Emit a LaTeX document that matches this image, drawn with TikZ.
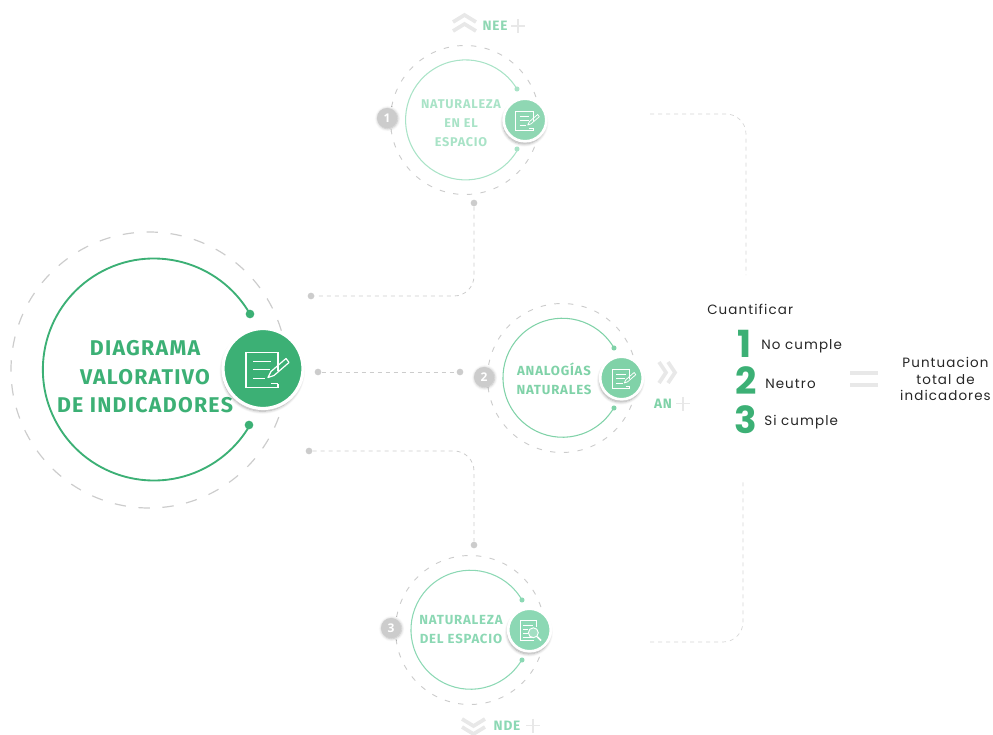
\documentclass[tikz,border=0pt]{standalone}
\usepackage{fontspec}
\usetikzlibrary{positioning, shadows.blur}
\setmainfont{Open Sans}
\newfontfamily\titlefont[LetterSpace=6]{Fira Sans}
\newfontfamily\plainfont[LetterSpace=8]{Poppins}
\newfontfamily\numfont{Poppins}

\definecolor{verde}{HTML}{3CB075}
\definecolor{verdeA}{HTML}{8FD7B3}
\definecolor{verdeAl}{HTML}{A9E3C7}
\definecolor{verdeB}{HTML}{80D2A8}
\definecolor{verdeC}{HTML}{8CD8B4}
\definecolor{gris}{HTML}{CCCCCC}
\definecolor{grisclaro}{HTML}{E8E8E8}

\tikzset{
	iconnote/.pic={
		\draw[white, line width=.9pt] (8,15) -- (15,15) (15,2) -- (15,-16) -- (-17,-16) -- (-17,19) -- (15,19) -- (15,15);
		\draw[white, line width=.9pt] (-10,-7) -- (8,-7) (-10,1) -- (7,1) (-10,10) -- (2,10);
		\draw[white, line width=.9pt, line join=round] (5,9) -- (8,3) -- (23,-10) -- (26,-6) -- (11,7) -- cycle;
	},
	iconnotesmall/.pic={
		\draw[white, line width=.55pt] (8,15) -- (15,15) (15,2) -- (15,-16) -- (-17,-16) -- (-17,19) -- (15,19) -- (15,15);
		\draw[white, line width=.55pt] (-10,-7) -- (8,-7) (-10,1) -- (7,1) (-10,10) -- (2,10);
		\draw[white, line width=.55pt, line join=round] (5,9) -- (8,3) -- (23,-10) -- (26,-6) -- (11,7) -- cycle;
	},
	iconlens/.pic={
		\draw[white, line width=.55pt] (-17,-17) -- (12,-17) -- (12,-6) (-17,-17) -- (-17,19) -- (8,19);
		\draw[white, line width=.55pt] (-12,-8) -- (7,-8) (-12,-1) -- (-2,-1) (-12,6) -- (-3,6) (-12,13) -- (6,13);
		\draw[white, line width=.7pt, fill=white, fill opacity=.2] (7,5) circle[radius=9];
		\draw[white, line width=1.2pt] (14,12) -- (21,19);
	}
}

\begin{document}
\begin{tikzpicture}[x=.75pt, y=-.75pt,
	ring/.style = {gris, line width=.9pt, dash pattern=on 8.5pt off 9.5pt},
	ringsmall/.style = {gris, line width=.7pt, dash pattern=on 4pt off 6.3pt},
	link/.style = {gris, line width=.6pt, dash pattern=on 3pt off 3pt, rounded corners=15pt},
	linkthin/.style = {gris!85, line width=.5pt, dash pattern=on 3pt off 3pt, rounded corners=15pt},
	dot/.style = {circle, fill=#1, inner sep=0pt, minimum size=5pt},
	icon/.style = {circle, fill=#1, draw=white, line width=2pt, inner sep=0pt, minimum size=32pt,
		blur shadow={shadow xshift=-.5pt, shadow yshift=-2pt, shadow blur steps=8, shadow opacity=35}},
	badge/.style = {circle, fill=gris, inner sep=0pt, minimum size=15pt, text=white,
		font=\bfseries\fontsize{9}{9}\selectfont,
		blur shadow={shadow xshift=.5pt, shadow yshift=-.5pt, shadow blur steps=5, shadow opacity=30}},
	label/.style = {align=center, text=#1, font=\titlefont\bfseries\fontsize{9.9}{14.2}\selectfont},
	tag/.style = {text=#1, inner sep=0pt, font=\titlefont\bfseries\fontsize{10.2}{10}\selectfont},
	chev/.style = {grisclaro, line width=2.8pt},
	plus/.style = {grisclaro, line width=1.4pt},
	plain/.style = {text=black!85, inner sep=0pt, font=\plainfont\fontsize{10.1}{12.6}\selectfont},
	num/.style = {text=verde, inner sep=0pt, font=\numfont\bfseries\fontsize{28}{28}\selectfont}
]

%%% BoundingBox
\useasboundingbox (0,0) rectangle (993,735);

%%% Kreis Hauptthema
\node[inner sep=0pt] (centro) at (152,370) {};
\draw[ring] (centro) ++(-3,0) circle[radius=138];
\node[dot=verde, minimum size=6.5pt] (mainA) at (250,314) {};
\node[dot=verde, minimum size=6.5pt] (mainB) at (249,425) {};
\draw[verde, line width=1.4pt] (mainA) arc[start angle=-30, end angle=-330, radius=111];
\node[label=verde, font=\titlefont\bfseries\fontsize{16}{21.3}\selectfont] (titulo) at (145,377) {DIAGRAMA\\VALORATIVO\\DE INDICADORES};
\node[icon=verde, minimum size=60pt, line width=2.4pt] (iconmain) at (263,368.5) {};
\pic at (iconmain) {iconnote};

%%% Kreis 1
\node[inner sep=0pt] (centroA) at (465,120) {};
\draw[ringsmall] (centroA) circle[radius=74.5];
\node[dot=verdeAl, minimum size=3.8pt] (aA) at (517,89) {};
\node[dot=verdeAl, minimum size=3.8pt] (aB) at (517,149) {};
\draw[verdeAl, line width=.8pt] (aA) arc[start angle=-31, end angle=-329, radius=60];
\node[label=verdeAl, font=\titlefont\bfseries\fontsize{9.5}{14.2}\selectfont] (tituloA) at (461,123) {NATURALEZA\\EN EL\\ESPACIO};
\node[icon=verdeA] (iconA) at (525,120) {};
\pic[scale=.55] at (iconA) {iconnotesmall};
\node[badge] (numA) at (387,118) {1};

%%% Kreis 2
\node[inner sep=0pt] (centroB) at (562,378) {};
\draw[ringsmall] (centroB) circle[radius=74.5];
\node[dot=verdeB, minimum size=3.8pt] (bA) at (614,348) {};
\node[dot=verdeB, minimum size=3.8pt] (bB) at (614,408) {};
\draw[verdeB, line width=.8pt] (bA) arc[start angle=-30, end angle=-330, radius=59.5];
\node[label=verdeB] (tituloB) at (554,379) {ANALOGÍAS\\NATURALES};
\node[icon=verdeB] (iconB) at (621.5,378) {};
\pic[scale=.55] at (iconB) {iconnotesmall};
\node[badge] (numB) at (484,377) {2};

%%% Kreis 3
\node[inner sep=0pt] (centroC) at (470,630) {};
\draw[ringsmall] (centroC) circle[radius=74.5];
\node[dot=verdeC, minimum size=3.8pt] (cA) at (522,600) {};
\node[dot=verdeC, minimum size=3.8pt] (cB) at (522,660) {};
\draw[verdeC, line width=.8pt] (cA) arc[start angle=-30, end angle=-330, radius=59.5];
\node[label=verdeC] (tituloC) at (461,630) {NATURALEZA\\DEL ESPACIO};
\node[icon=verdeC] (iconC) at (529.5,630) {};
\pic[scale=.55] at (iconC) {iconlens};
\node[badge] (numC) at (391,628) {3};

%%% Verbindungen
\node[dot=gris] (linkAa) at (474,203) {};
\node[dot=gris] (linkAb) at (311,296) {};
\draw[link] (linkAa) |- (linkAb);
\node[dot=gris] (linkBa) at (318,372) {};
\node[dot=gris] (linkBb) at (460,372) {};
\draw[link] (linkBa) -- (linkBb);
\node[dot=gris] (linkCa) at (309,451) {};
\node[dot=gris] (linkCb) at (474,545) {};
\draw[link] (linkCa) -| (linkCb);

%%% Klammer rechts
\coordinate (klamA) at (650,114);
\coordinate (klamB) at (746,275);
\coordinate (klamC) at (743,482);
\coordinate (klamD) at (650,642);
\draw[linkthin] (klamA) -| (klamB);
\draw[linkthin] (klamD) -| (klamC);

%%% Pfeile und Kuerzel
\draw[chev] (453,22) -- (464.5,15) -- (476,22) (453,31) -- (464.5,24) -- (476,31);
\node[tag=verdeA] (tagA) at (495,26) {NEE};
\draw[plus] (511,26) -- (525,26) (518,19) -- (518,33);

\draw[chev] (659,362) -- (666,372.5) -- (659,383) (668,362) -- (675,372.5) -- (668,383);
\node[tag=verdeB] (tagB) at (663,403.5) {AN};
\draw[plus] (676,403.5) -- (690,403.5) (683,396.5) -- (683,410.5);

\draw[chev] (462,719) -- (473.5,726) -- (485,719) (462,727) -- (473.5,734) -- (485,727);
\node[tag=verdeC] (tagC) at (507,725.5) {NDE};
\draw[plus] (526,725.5) -- (540,725.5) (533,718.5) -- (533,732.5);

%%% Rechte Seite
\node[plain, anchor=west] (cuant) at (707,309) {Cuantificar};
\node[num] (uno) at (745,344) {1};
\node[num] (dos) at (746,381) {2};
\node[num] (tres) at (746,420) {3};
\node[plain, anchor=west] (noc) at (761,346) {No cumple};
\node[plain, anchor=west] (neu) at (765,384) {Neutro};
\node[plain, anchor=west] (sic) at (764,422) {Si cumple};
\draw[grisclaro, line width=3pt] (850,373) -- (878,373) (850,385) -- (878,385);
\node[plain, align=center] (total) at (945.5,379) {Puntuacion\\total de\\indicadores};

\end{tikzpicture}
\end{document}
